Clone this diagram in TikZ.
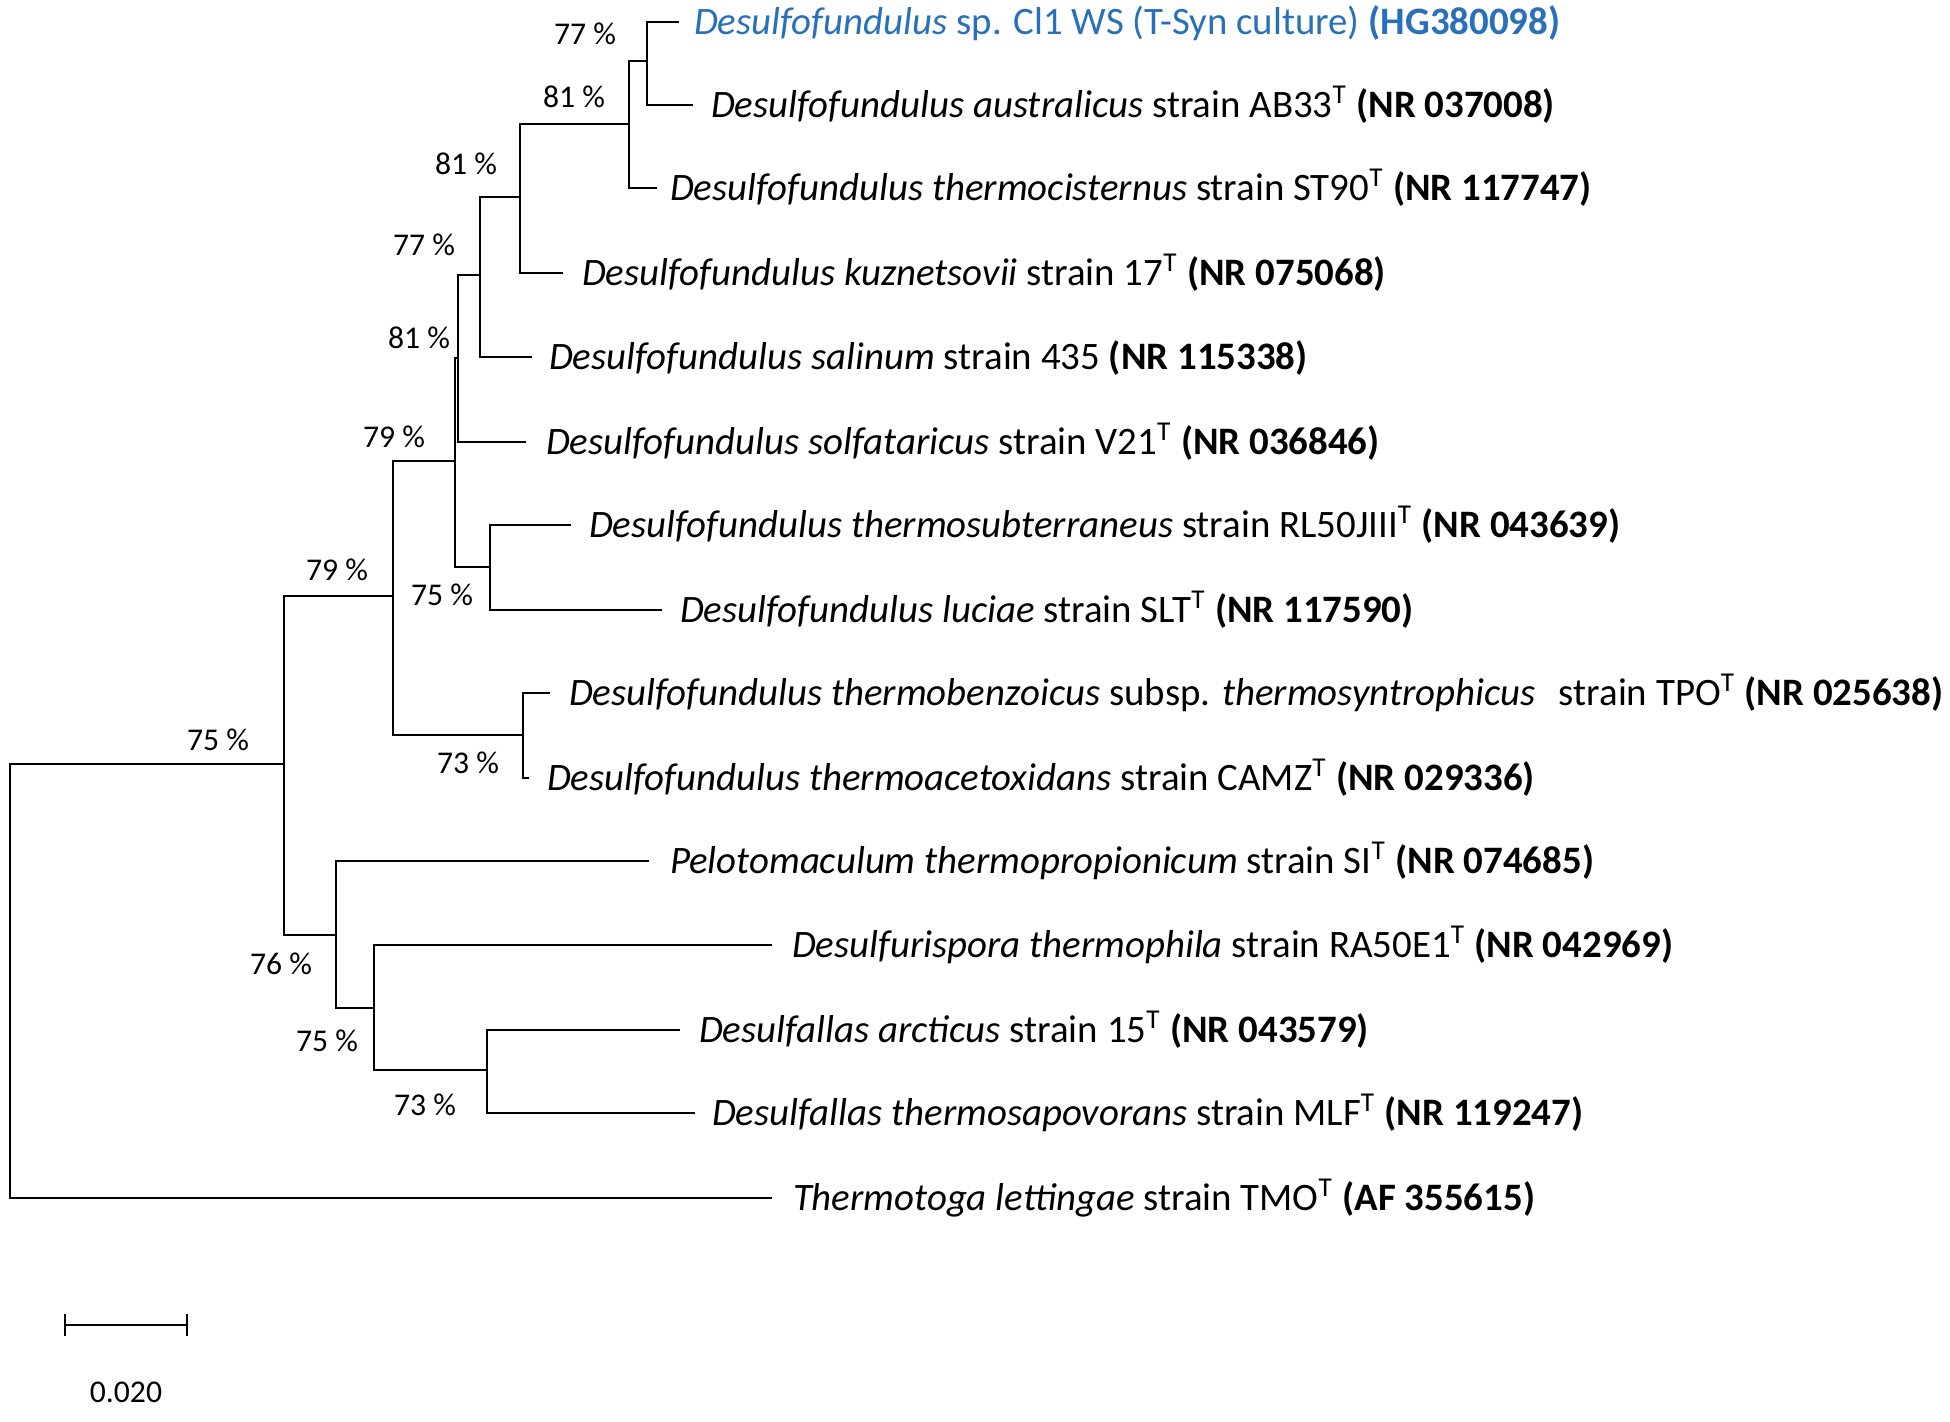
\documentclass[tikz,border=0pt]{standalone}
\usepackage{fontspec}
\setmainfont{Carlito}
\definecolor{cblue}{RGB}{40,112,186}
\newcommand{\Tsup}{\textsuperscript{T}}
\begin{document}
\begin{tikzpicture}[x=0.01cm,y=-0.01cm,line width=0.6pt,
  leaf/.style={anchor=mid west,inner sep=0pt,yshift=-0.04cm,font=\fontsize{11.05}{13}\selectfont},
  pct/.style={inner sep=0pt,font=\fontsize{9}{11}\selectfont},
  br/.style={draw,line cap=rect}]
\useasboundingbox (0,0) rectangle (1950,1422);
% internal nodes
\coordinate (A) at (647,61);
\coordinate (B) at (629,124);
\coordinate (C) at (520,197);
\coordinate (D) at (480,275);
\coordinate (E) at (458,358);
\coordinate (F) at (455,461);
\coordinate (G) at (490,567);
\coordinate (H) at (393,596);
\coordinate (I) at (523,735);
\coordinate (J) at (284,764);
\coordinate (K) at (336,935);
\coordinate (L) at (374,1008);
\coordinate (M) at (487,1070);
\coordinate (R) at (10,981);
% leaf ends
\coordinate (l1) at (678,22);
\coordinate (l2) at (692,105);
\coordinate (l3) at (656,188);
\coordinate (l4) at (562,273);
\coordinate (l5) at (531,357);
\coordinate (l6) at (525,442);
\coordinate (l7) at (570,525);
\coordinate (l8) at (661,610);
\coordinate (l9) at (549,693);
\coordinate (l10) at (528,778);
\coordinate (l11) at (648,861);
\coordinate (l12) at (771,945);
\coordinate (l13) at (679,1030);
\coordinate (l14) at (694,1113);
\coordinate (l15) at (771,1198);
% branches
\path[br] (A) |- (l1);
\path[br] (A) |- (l2);
\path[br] (B) |- (A);
\path[br] (B) |- (l3);
\path[br] (C) |- (B);
\path[br] (C) |- (l4);
\path[br] (D) |- (C);
\path[br] (D) |- (l5);
\path[br] (E) |- (D);
\path[br] (E) |- (l6);
\path[br] (F) |- (E);
\path[br] (F) |- (G);
\path[br] (G) |- (l7);
\path[br] (G) |- (l8);
\path[br] (H) |- (F);
\path[br] (H) |- (I);
\path[br] (I) |- (l9);
\path[br] (I) |- (l10);
\path[br] (J) |- (H);
\path[br] (J) |- (K);
\path[br] (K) |- (l11);
\path[br] (K) |- (L);
\path[br] (L) |- (l12);
\path[br] (L) |- (M);
\path[br] (M) |- (l13);
\path[br] (M) |- (l14);
\path[br] (R) |- (J);
\path[br] (R) |- (l15);
% leaf labels
\node[leaf,text=cblue] (t1) at (693,22) {\textit{Desulfofundulus} sp. Cl1 WS (T-Syn culture) \textbf{(HG380098)}};
\node[leaf] (t2) at (710,105) {\textit{Desulfofundulus australicus} strain AB33\Tsup{} \textbf{(NR 037008)}};
\node[leaf] (t3) at (669,188) {\textit{Desulfofundulus thermocisternus} strain ST90\Tsup{} \textbf{(NR 117747)}};
\node[leaf] (t4) at (581,273) {\textit{Desulfofundulus kuznetsovii} strain 17\Tsup{} \textbf{(NR 075068)}};
\node[leaf] (t5) at (548,357) {\textit{Desulfofundulus salinum} strain 435 \textbf{(NR 115338)}};
\node[leaf] (t6) at (545,442) {\textit{Desulfofundulus solfataricus} strain V21\Tsup{} \textbf{(NR 036846)}};
\node[leaf] (t7) at (588,525) {\textit{Desulfofundulus thermosubterraneus} strain RL50JIII\Tsup{} \textbf{(NR 043639)}};
\node[leaf] (t8) at (679,610) {\textit{Desulfofundulus luciae} strain SLT\Tsup{} \textbf{(NR 117590)}};
\node[leaf] (t9) at (568,693) {\textit{Desulfofundulus thermobenzoicus} subsp. \textit{thermosyntrophicus}\hspace{0.6em}strain TPO\Tsup{} \textbf{(NR 025638)}};
\node[leaf] (t10) at (546,778) {\textit{Desulfofundulus thermoacetoxidans} strain CAMZ\Tsup{} \textbf{(NR 029336)}};
\node[leaf] (t11) at (669,861) {\textit{Pelotomaculum thermopropionicum} strain SI\Tsup{} \textbf{(NR 074685)}};
\node[leaf] (t12) at (791,945) {\textit{Desulfurispora thermophila} strain RA50E1\Tsup{} \textbf{(NR 042969)}};
\node[leaf] (t13) at (698,1030) {\textit{Desulfallas arcticus} strain 15\Tsup{} \textbf{(NR 043579)}};
\node[leaf] (t14) at (711,1113) {\textit{Desulfallas thermosapovorans} strain MLF\Tsup{} \textbf{(NR 119247)}};
\node[leaf] (t15) at (792,1198) {\textit{Thermotoga lettingae} strain TMO\Tsup{} \textbf{(AF 355615)}};
% bootstrap values
\node[pct] (pA) at (585,34) {77 \%};
\node[pct] (pB) at (574,97) {81 \%};
\node[pct] (pC) at (466,164) {81 \%};
\node[pct] (pD) at (424,245) {77 \%};
\node[pct] (pE) at (419,338) {81 \%};
\node[pct] (pF) at (394,437) {79 \%};
\node[pct] (pH) at (337,570) {79 \%};
\node[pct] (pG) at (442,595) {75 \%};
\node[pct] (pR) at (218,740) {75 \%};
\node[pct] (pI) at (468,763) {73 \%};
\node[pct] (pK) at (281,964) {76 \%};
\node[pct] (pL) at (327,1041) {75 \%};
\node[pct] (pM) at (425,1105) {73 \%};
% scale bar
\coordinate (s1) at (65,1325);
\coordinate (s2) at (187,1325);
\draw (s1) -- (s2);
\draw ([yshift=0.11cm]s1) -- ([yshift=-0.11cm]s1);
\draw ([yshift=0.11cm]s2) -- ([yshift=-0.11cm]s2);
\node[pct] (sl) at (126,1392) {0.020};
\end{tikzpicture}
\end{document}
